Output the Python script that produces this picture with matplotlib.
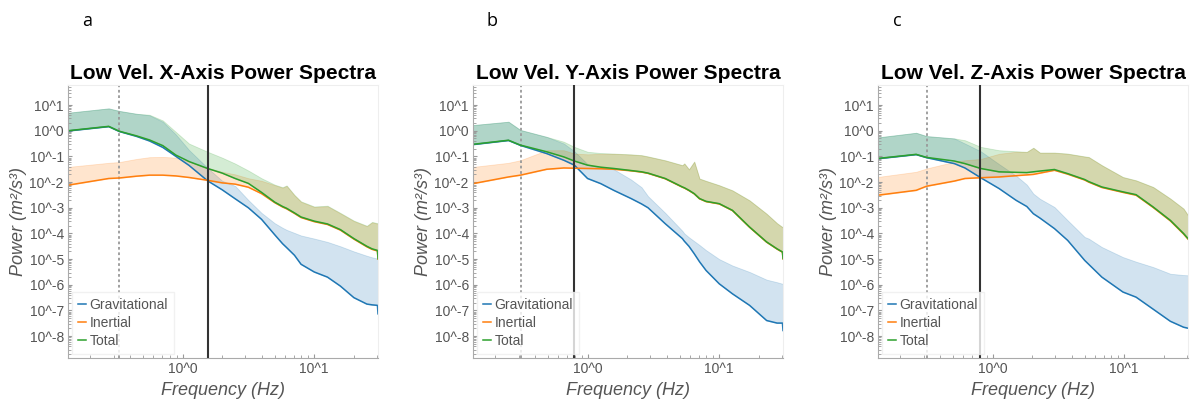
import numpy as np
import matplotlib
matplotlib.use("Agg")
import matplotlib.pyplot as plt
from matplotlib.ticker import FixedLocator, FuncFormatter, LogLocator, NullFormatter

plt.rcParams['font.family'] = ['Liberation Sans', 'DejaVu Sans']

# ---------------------------------------------------------------
# Data (frequency in Hz, power as log10 m^2/s^3)
# Each series: lower line + upper edge of its shaded band
# ---------------------------------------------------------------

# X axis panel
x_freq = [0.135, 0.275, 0.331, 0.447, 0.562, 0.708, 0.891, 1.12, 1.55, 2.0, 2.51, 3.16, 3.98,
          5.01, 5.75, 6.17, 7.08, 7.94, 10.0, 12.6, 15.8, 20.0, 25.1, 27.5, 30.2, 30.5]
x_grav_lo = [-0.01, 0.16, -0.03, -0.22, -0.4, -0.65, -1.0, -1.35, -1.95, -2.3, -2.65, -3.0, -3.45,
             -4.05, -4.4, -4.55, -4.85, -5.2, -5.5, -5.7, -6.05, -6.5, -6.75, -6.78, -6.8, -7.13]
x_grav_hi = [0.70, 0.87, 0.77, 0.66, 0.6, 0.35, -0.15, -0.75, -1.45, -1.95, -2.15, -2.7, -3.2,
             -3.6, -3.78, -3.86, -3.98, -4.08, -4.2, -4.33, -4.5, -4.7, -4.87, -4.93, -4.98, -4.98]
x_inert_lo = [-2.12, -1.86, -1.84, -1.77, -1.73, -1.73, -1.76, -1.82, -1.93, -2.03, -2.08, -2.2, -2.45,
              -2.8, -2.97, -3.04, -3.22, -3.38, -3.54, -3.65, -3.87, -4.22, -4.52, -4.62, -4.68, -5.0]
x_inert_hi = [-1.41, -1.25, -1.22, -1.1, -1.03, -1.02, -1.05, -1.2, -1.45, -1.6, -1.7, -1.85, -1.95,
              -2.12, -2.22, -2.15, -2.52, -2.77, -2.97, -2.94, -3.22, -3.52, -3.72, -3.57, -3.62, -3.62]
x_total_lo = [0.0, 0.17, -0.02, -0.2, -0.36, -0.58, -0.95, -1.2, -1.47, -1.65, -1.86, -2.05, -2.4,
              -2.78, -2.95, -3.02, -3.2, -3.36, -3.52, -3.63, -3.85, -4.2, -4.5, -4.6, -4.66, -4.98]
x_total_hi = [0.70, 0.87, 0.77, 0.66, 0.62, 0.4, -0.05, -0.5, -0.82, -1.05, -1.28, -1.55, -1.85,
              -2.1, -2.2, -2.13, -2.5, -2.75, -2.95, -2.92, -3.2, -3.5, -3.7, -3.55, -3.6, -3.6]

# Y axis panel
y_freq = [0.135, 0.251, 0.309, 0.49, 0.661, 0.794, 1.0, 1.26, 1.58, 2.14, 2.57, 2.88, 3.89,
          5.25, 5.43, 5.89, 6.46, 7.08, 7.94, 10.0, 12.6, 17.0, 22.9, 27.5, 30.2, 30.5]
y_grav_lo = [-0.54, -0.38, -0.57, -0.89, -1.15, -1.34, -1.86, -2.06, -2.32, -2.64, -2.85, -3.0, -3.62,
             -4.2, -4.3, -4.5, -4.79, -5.1, -5.44, -5.96, -6.35, -6.8, -7.39, -7.49, -7.49, -7.78]
y_grav_hi = [0.22, 0.35, 0.03, -0.24, -0.5, -0.8, -1.3, -1.45, -1.5, -1.9, -2.2, -2.55, -3.2,
             -3.9, -4.0, -4.15, -4.3, -4.45, -4.65, -5.0, -5.25, -5.5, -5.8, -5.9, -5.96, -5.96]
y_inert_lo = [-2.06, -1.8, -1.73, -1.5, -1.45, -1.46, -1.47, -1.48, -1.5, -1.56, -1.61, -1.66, -1.87,
              -2.2, -2.23, -2.33, -2.46, -2.65, -2.76, -2.85, -3.11, -3.76, -4.34, -4.61, -4.73, -4.99]
y_inert_hi = [-1.41, -1.25, -1.15, -0.76, -0.76, -0.89, -0.92, -0.9, -0.9, -0.93, -0.96, -1.01, -1.16,
              -1.35, -1.28, -1.51, -1.21, -1.87, -1.96, -2.13, -2.33, -2.72, -3.24, -3.61, -3.76, -3.76]
y_total_lo = [-0.53, -0.37, -0.56, -0.82, -1.02, -1.18, -1.34, -1.42, -1.47, -1.55, -1.6, -1.65, -1.86,
              -2.19, -2.22, -2.32, -2.45, -2.64, -2.75, -2.84, -3.1, -3.75, -4.33, -4.6, -4.72, -4.98]
y_total_hi = [0.22, 0.35, 0.03, -0.24, -0.43, -0.63, -0.82, -0.87, -0.89, -0.92, -0.95, -1.0, -1.15,
              -1.34, -1.27, -1.5, -1.2, -1.86, -1.95, -2.12, -2.32, -2.71, -3.23, -3.6, -3.75, -3.75]

# Z axis panel
z_freq = [0.135, 0.263, 0.316, 0.513, 0.617, 0.813, 1.12, 1.51, 1.82, 2.04, 2.29, 2.95, 3.72,
          5.01, 5.37, 6.76, 9.77, 12.3, 16.6, 22.4, 28.2, 30.5]
z_grav_lo = [-1.09, -0.93, -1.05, -1.28, -1.45, -1.83, -2.25, -2.71, -2.95, -3.23, -3.4, -3.81, -4.27,
             -5.05, -5.2, -5.7, -6.28, -6.48, -6.95, -7.42, -7.65, -7.69]
z_grav_hi = [-0.26, -0.08, -0.21, -0.3, -0.5, -0.8, -1.3, -1.75, -2.1, -2.45, -2.65, -2.97, -3.49,
             -4.14, -4.2, -4.53, -4.92, -5.1, -5.31, -5.57, -5.62, -5.63]
z_inert_lo = [-2.51, -2.32, -2.16, -1.96, -1.86, -1.83, -1.8, -1.75, -1.72, -1.7, -1.65, -1.54, -1.69,
              -1.92, -2.0, -2.21, -2.4, -2.51, -2.99, -3.51, -4.02, -4.22]
z_inert_hi = [-1.8, -1.6, -1.47, -1.21, -1.15, -1.1, -0.9, -0.82, -0.83, -0.67, -0.86, -0.86, -0.9,
              -1.01, -1.03, -1.35, -1.81, -1.94, -2.2, -2.65, -3.04, -3.3]
z_total_lo = [-1.08, -0.92, -1.04, -1.18, -1.28, -1.47, -1.6, -1.62, -1.63, -1.6, -1.57, -1.51, -1.67,
              -1.9, -1.98, -2.19, -2.38, -2.49, -2.97, -3.49, -4.0, -4.2]
z_total_hi = [-0.26, -0.08, -0.21, -0.3, -0.37, -0.63, -0.76, -0.8, -0.82, -0.66, -0.85, -0.85, -0.89,
              -1.0, -1.02, -1.34, -1.8, -1.93, -2.19, -2.64, -3.03, -3.29]

titles = ["Low Vel. X-Axis Power Spectra", "Low Vel. Y-Axis Power Spectra", "Low Vel. Z-Axis Power Spectra"]
panel_letters = ["a", "b", "c"]
dotted_cut = [0.33, 0.31, 0.32]     # Hz
solid_cut = [1.55, 0.79, 0.81]      # Hz

panels = [
    (x_freq, x_grav_lo, x_grav_hi, x_inert_lo, x_inert_hi, x_total_lo, x_total_hi),
    (y_freq, y_grav_lo, y_grav_hi, y_inert_lo, y_inert_hi, y_total_lo, y_total_hi),
    (z_freq, z_grav_lo, z_grav_hi, z_inert_lo, z_inert_hi, z_total_lo, z_total_hi),
]

colors = {"Gravitational": "#1f77b4", "Inertial": "#ff7f0e", "Total": "#2ca02c"}
gray = "#555555"

W, H = 1190, 400
fig = plt.figure(figsize=(W / 100, H / 100), dpi=100)
lefts = [68, 473, 878]

for i, (freq, g_lo, g_hi, i_lo, i_hi, t_lo, t_hi) in enumerate(panels):
    ax = fig.add_axes([lefts[i] / W, 42 / H, 310 / W, 273 / H])
    f = np.array(freq)
    series = [("Gravitational", g_lo, g_hi), ("Inertial", i_lo, i_hi), ("Total", t_lo, t_hi)]
    for name, lo, hi in series:
        lo_p = 10.0 ** np.array(lo)
        hi_p = 10.0 ** np.array(hi)
        ax.fill_between(f, lo_p, hi_p, color=colors[name], alpha=0.2, linewidth=0.6)
    for name, lo, hi in series:
        ax.plot(f, 10.0 ** np.array(lo), color=colors[name], lw=1.1, label=name)

    ax.axvline(dotted_cut[i], color="#999999", ls=(0, (1.5, 1.5)), lw=1.3, zorder=1)
    ax.axvline(solid_cut[i], color="#333333", lw=1.5, zorder=3)

    ax.set_xscale("log")
    ax.set_yscale("log")
    ax.set_xlim(0.135, 30.5)
    ax.set_ylim(10 ** -8.85, 10 ** 1.78)

    ax.yaxis.set_major_locator(FixedLocator([10.0 ** k for k in range(-8, 2)]))
    ax.yaxis.set_major_formatter(FuncFormatter(lambda v, p: f"10^{int(round(np.log10(v)))}"))
    ax.yaxis.set_minor_locator(LogLocator(base=10, subs=np.arange(2, 10), numticks=20))
    ax.yaxis.set_minor_formatter(NullFormatter())
    ax.xaxis.set_major_locator(FixedLocator([1.0, 10.0]))
    ax.xaxis.set_major_formatter(FuncFormatter(lambda v, p: f"10^{int(round(np.log10(v)))}"))
    ax.xaxis.set_minor_locator(LogLocator(base=10, subs=np.arange(2, 10), numticks=20))
    ax.xaxis.set_minor_formatter(NullFormatter())

    ax.tick_params(which="both", direction="in", colors="#999999", labelcolor=gray, labelsize=10)
    ax.tick_params(which="major", length=3, pad=3)
    ax.tick_params(which="minor", length=2)
    for side in ["left", "bottom"]:
        ax.spines[side].set_color("#aaaaaa")
    for side in ["top", "right"]:
        ax.spines[side].set_color("#eeeeee")

    ax.set_title(titles[i], fontsize=15, fontweight="bold", pad=4)
    ax.set_xlabel("Frequency (Hz)", fontsize=13, fontstyle="italic", color=gray, labelpad=4)
    ax.set_ylabel("Power (m²/s³)", fontsize=13, fontstyle="italic", color=gray, labelpad=2)

    ax.legend(loc="lower left", fontsize=10, labelcolor=gray, frameon=True, fancybox=False,
              edgecolor="#eeeeee", handlelength=0.6, handletextpad=0.25, labelspacing=0.3,
              borderaxespad=0.3, borderpad=0.4)

    fig.text((lefts[i] + 19) / W, 1 - 21 / H, panel_letters[i], fontsize=13,
             family="Open Sans", ha="center", va="center")

fig.savefig("out.png", dpi=100)
